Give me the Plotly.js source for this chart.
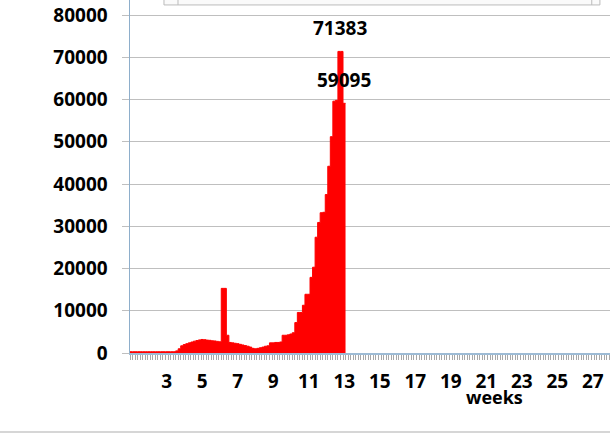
<!DOCTYPE html>
<html>
<head>
<meta charset="utf-8">
<script src="https://cdn.plot.ly/plotly-3.0.1.min.js"></script>
<style>html,body{margin:0;padding:0;background:#fff;}#chart{width:610px;height:440px;}</style>
</head>
<body>
<div id="chart"></div>
<script>
// Daily values (day index 0 = start of week 1)
const days = [];
for (let i = 0; i < 85; i++) days.push(i);
const values = [
  300, 300, 300, 300, 300, 300, 300, 300, 300, 300,
  300, 300, 300, 300, 300, 300, 300, 300, 500, 1000,
  1700, 2000, 2200, 2400, 2600, 2800, 2950, 3100, 3200, 3150,
  3050, 3000, 2900, 2850, 2750, 2650, 15300, 15300, 4200, 2500,
  2400, 2300, 2200, 2050, 1900, 1750, 1600, 1400, 1100, 1000,
  1100, 1250, 1400, 1600, 1700, 2400, 2400, 2500, 2500, 2600,
  4200, 4200, 4300, 4500, 4800, 7200, 9600, 9600, 11300, 13900,
  13900, 17900, 20300, 27400, 30900, 33200, 33300, 37500, 44200, 51200,
  59600, 59800, 71383, 71383, 59095
];
const weekLabels = ["3","5","7","9","11","13","15","17","19","21","23","25","27"];
const weekTickPos = weekLabels.map(w => 7 * (Number(w) - 1));
const peakLabels = [{x: 82.5, y: 71383, text: "71383"}, {x: 84, y: 59095, text: "59095"}];

const font = {family: "Open Sans", size: 19, color: "#000", weight: "bold"};

// Each day drawn as a full-width step (column with no gaps)
const stepX = days.map(d => d - 0.5).concat([days[days.length - 1] + 0.5]);
const stepY = values.concat([values[values.length - 1]]);

const trace = {
  type: "scatter", mode: "lines", x: stepX, y: stepY,
  line: {shape: "hv", color: "#FF0000", width: 1},
  fill: "tozeroy", fillcolor: "#FF0000",
  hoverinfo: "skip"
};

const layout = {
  width: 610, height: 440,
  margin: {l: 130, r: 0, t: 0, b: 87, pad: 0},
  paper_bgcolor: "#fff", plot_bgcolor: "#fff",
  showlegend: false,
  xaxis: {
    range: [-0.5, 188.8], tickmode: "array", tickvals: weekTickPos, ticktext: weekLabels,
    ticks: "", tickfont: font, ticklabelstandoff: 11,
    showgrid: false, zeroline: false, showline: true, linecolor: "#9DBBD5", linewidth: 1.5,
    minor: {tickmode: "linear", tick0: -0.5, dtick: 1, ticks: "outside", ticklen: 5, tickcolor: "#A8A8A8", tickwidth: 1, showgrid: false}
  },
  yaxis: {
    range: [0, 83550], dtick: 10000, tick0: 0, tickformat: "d",
    ticks: "outside", ticklen: 7, tickcolor: "#BFBFBF", tickfont: font, ticklabelstandoff: 10,
    showgrid: true, gridcolor: "#BFBFBF", gridwidth: 1, zeroline: false,
    showline: true, linecolor: "#8EAECB", linewidth: 1.5
  },
  annotations: peakLabels.map(p => ({
    x: p.x, y: p.y, xref: "x", yref: "y", text: p.text, showarrow: false,
    yanchor: "bottom", yshift: 8, font: font
  })).concat([{
    xref: "paper", yref: "paper", x: 0.76, y: -0.125, text: "weeks", showarrow: false,
    xanchor: "center", yanchor: "middle", font: {family: "Open Sans", size: 18, color: "#000", weight: "bold"}
  }]),
  shapes: [
    {type: "line", xref: "paper", yref: "paper", x0: -0.28, x1: 1.02, y0: -0.2238, y1: -0.2238, line: {color: "#D6D6D6", width: 2}},
    {type: "rect", xref: "paper", yref: "paper", x0: 0.0708, x1: 0.979, y0: 0.986, y1: 1.02, line: {color: "#BBBBBB", width: 1}, fillcolor: "#FAFAFA"},
    {type: "line", xref: "paper", yref: "paper", x0: 0.1, x1: 0.1, y0: 0.986, y1: 1.02, line: {color: "#BBBBBB", width: 1}},
    {type: "line", xref: "paper", yref: "paper", x0: 0.962, x1: 0.962, y0: 0.986, y1: 1.02, line: {color: "#BBBBBB", width: 1}}
  ]
};

Plotly.newPlot("chart", [trace], layout, {displayModeBar: false, staticPlot: true});
</script>
</body>
</html>
